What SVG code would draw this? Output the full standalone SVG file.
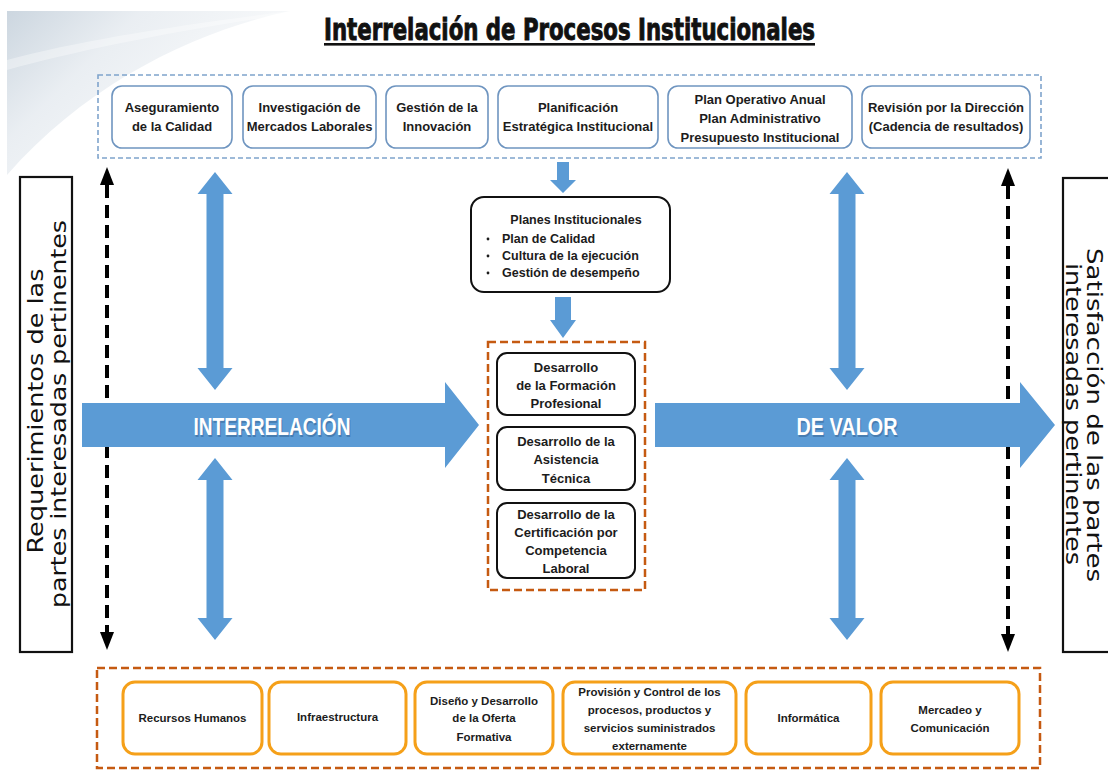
<svg xmlns="http://www.w3.org/2000/svg" width="1108" height="770" viewBox="0 0 1108 770">
<defs>
<linearGradient id="bg" x1="0" y1="0" x2="1" y2="0.6">
<stop offset="0" stop-color="#c3cfda"/>
<stop offset="0.35" stop-color="#e6ebf0"/>
<stop offset="1" stop-color="#ffffff"/>
</linearGradient>
<marker id="blk" markerUnits="userSpaceOnUse" markerWidth="18" markerHeight="16" refX="0" refY="7" orient="auto-start-reverse" viewBox="0 0 18 14">
<path d="M0,0 L18,7 L0,14 Z" fill="#000"/>
</marker>
</defs>
<style>
.t{font-family:"Liberation Sans",Arial,sans-serif;font-weight:bold;fill:#1c1c1c;text-anchor:middle}
.tl{font-family:"Liberation Sans",Arial,sans-serif;font-weight:bold;fill:#1c1c1c}
.top{fill:#fff;stroke:#6f95c0;stroke-width:1.6}
.bot{fill:#fff;stroke:#f5a019;stroke-width:3}
.blk{fill:#fff;stroke:#111;stroke-width:2}
.blue{fill:#5b9bd5}
.rot{font-family:"DejaVu Sans","Liberation Sans",sans-serif;font-size:22px;fill:#111;text-anchor:middle}
.big{font-family:"Liberation Sans",Arial,sans-serif;font-weight:bold;font-size:24px;text-anchor:middle}
</style>
<rect width="1108" height="770" fill="#fff"/>
<path d="M7,11 L290,11 C200,30 90,80 7,175 Z" fill="url(#bg)" opacity="0.85"/>
<path d="M7,60 C80,40 180,25 290,11 L290,14 C180,30 80,50 7,70 Z" fill="#fff" opacity="0.35"/>

<g id="title">
<text x="569.5" y="40" font-family="'DejaVu Sans Condensed','Liberation Sans Narrow','Liberation Sans',sans-serif" font-weight="bold" font-size="30" fill="#111" stroke="#111" stroke-width="0.9" text-anchor="middle" textLength="491" lengthAdjust="spacingAndGlyphs">Interrelación de Procesos Institucionales</text>
<rect x="324" y="43" width="491" height="2.6" fill="#111"/>
</g>

<g id="top-group">
<rect x="98" y="75" width="943" height="83" fill="none" stroke="#7fa4cc" stroke-width="1.6" stroke-dasharray="5 3"/>
</g>
<g id="n-aseguramiento"><rect class="top" x="112" y="86" width="120" height="62" rx="10"/><text class="t" font-size="13"><tspan x="172" y="112">Aseguramiento</tspan><tspan x="172" y="131">de la Calidad</tspan></text></g>
<g id="n-investigacion"><rect class="top" x="243" y="86" width="133" height="62" rx="10"/><text class="t" font-size="13"><tspan x="309.5" y="112">Investigación de</tspan><tspan x="309.5" y="131">Mercados Laborales</tspan></text></g>
<g id="n-innovacion"><rect class="top" x="386" y="86" width="102" height="62" rx="10"/><text class="t" font-size="13"><tspan x="437" y="112">Gestión de la</tspan><tspan x="437" y="131">Innovación</tspan></text></g>
<g id="n-planificacion"><rect class="top" x="498" y="86" width="160" height="62" rx="10"/><text class="t" font-size="13"><tspan x="578" y="112">Planificación</tspan><tspan x="578" y="131">Estratégica Institucional</tspan></text></g>
<g id="n-poa"><rect class="top" x="668" y="86" width="184" height="62" rx="10"/><text class="t" font-size="13"><tspan x="760" y="103.5">Plan Operativo Anual</tspan><tspan x="760" y="122.5">Plan Administrativo</tspan><tspan x="760" y="141.5">Presupuesto Institucional</tspan></text></g>
<g id="n-revision"><rect class="top" x="862" y="86" width="168" height="62" rx="10"/><text class="t" font-size="13"><tspan x="946" y="112">Revisión por la Dirección</tspan><tspan x="946" y="131">(Cadencia de resultados)</tspan></text></g>

<g id="n-requerimientos">
<rect x="20" y="177" width="52" height="475" fill="#fff" stroke="#111" stroke-width="2.2"/>
<text class="rot" transform="translate(43,411) rotate(-90)" textLength="285" lengthAdjust="spacingAndGlyphs">Requerimientos de las</text>
<text class="rot" transform="translate(66,414) rotate(-90)" textLength="388" lengthAdjust="spacingAndGlyphs">partes interesadas pertinentes</text>
</g>
<g id="n-satisfaccion">
<rect x="1063" y="178" width="60" height="474" fill="#fff" stroke="#111" stroke-width="2.2"/>
<text class="rot" font-size="21" style="font-size:21px" transform="translate(1087,415) rotate(90)" textLength="334" lengthAdjust="spacingAndGlyphs">Satisfacción de las partes</text>
<text class="rot" style="font-size:21px" transform="translate(1066,414) rotate(90)" textLength="302" lengthAdjust="spacingAndGlyphs">interesadas pertinentes</text>
</g>

<g id="connectors">
<line x1="107" y1="185" x2="107" y2="632" stroke="#000" stroke-width="4" stroke-dasharray="13 7" marker-start="url(#blk)" marker-end="url(#blk)"/>
<line x1="1008" y1="186" x2="1008" y2="634" stroke="#000" stroke-width="4" stroke-dasharray="13 7" marker-start="url(#blk)" marker-end="url(#blk)"/>
<polygon class="blue" points="215,172 232.5,194 223.5,194 223.5,368 232.5,368 215,390 197.5,368 206.5,368 206.5,194 197.5,194"/>
<polygon class="blue" points="215,458 232.5,480 223.5,480 223.5,618 232.5,618 215,640 197.5,618 206.5,618 206.5,480 197.5,480"/>
<polygon class="blue" points="847,172 864.5,194 855.5,194 855.5,368 864.5,368 847,390 829.5,368 838.5,368 838.5,194 829.5,194"/>
<polygon class="blue" points="847,458 864.5,480 855.5,480 855.5,618 864.5,618 847,640 829.5,618 838.5,618 838.5,480 829.5,480"/>
<polygon class="blue" points="82,403 445,403 445,382 479,425 445,468 445,447 82,447"/>
<polygon class="blue" points="655,403 1020,403 1020,382 1055,425 1020,468 1020,447 655,447"/>
<polygon class="blue" points="557,162 569,162 569,180 576,180 563,193 550,180 557,180"/>
<polygon class="blue" points="555,297 571,297 571,320 576,320 563,338 550,320 555,320"/>
<text class="big" x="273" y="436.5" fill="#3a6a9a" opacity="0.6" textLength="157" lengthAdjust="spacingAndGlyphs">INTERRELACIÓN</text>
<text class="big" x="272" y="435" fill="#fff" textLength="157" lengthAdjust="spacingAndGlyphs">INTERRELACIÓN</text>
<text class="big" x="848" y="436.5" fill="#3a6a9a" opacity="0.6" textLength="101" lengthAdjust="spacingAndGlyphs">DE VALOR</text>
<text class="big" x="847" y="435" fill="#fff" textLength="101" lengthAdjust="spacingAndGlyphs">DE VALOR</text>
</g>

<g id="n-planes">
<rect class="blk" x="471" y="197" width="199" height="95" rx="13"/>
<text class="t" font-size="12.5" x="576" y="224">Planes Institucionales</text>
<g class="tl" font-size="12.5">
<circle cx="488" cy="239" r="1.4" fill="#1c1c1c"/><text x="502" y="243">Plan de Calidad</text>
<circle cx="488" cy="256" r="1.4" fill="#1c1c1c"/><text x="502" y="260">Cultura de la ejecución</text>
<circle cx="488" cy="273" r="1.4" fill="#1c1c1c"/><text x="502" y="277">Gestión de desempeño</text>
</g>
</g>

<g id="core-group">
<rect x="488" y="342" width="157" height="248" fill="none" stroke="#c55a11" stroke-width="2.5" stroke-dasharray="8 4"/>
</g>
<g id="n-formacion"><rect class="blk" x="497" y="353" width="138" height="62" rx="10"/><text class="t" font-size="13"><tspan x="566" y="372">Desarrollo</tspan><tspan x="566" y="390">de la Formación</tspan><tspan x="566" y="408">Profesional</tspan></text></g>
<g id="n-asistencia"><rect class="blk" x="497" y="427" width="138" height="63" rx="10"/><text class="t" font-size="13"><tspan x="566" y="446">Desarrollo de la</tspan><tspan x="566" y="464">Asistencia</tspan><tspan x="566" y="483">Técnica</tspan></text></g>
<g id="n-certificacion"><rect class="blk" x="497" y="503" width="138" height="75" rx="10"/><text class="t" font-size="13"><tspan x="566" y="519">Desarrollo de la</tspan><tspan x="566" y="537">Certificación por</tspan><tspan x="566" y="555">Competencia</tspan><tspan x="566" y="573">Laboral</tspan></text></g>

<g id="support-group">
<rect x="97" y="668" width="943" height="100" fill="none" stroke="#c55a11" stroke-width="2.5" stroke-dasharray="8 4"/>
</g>
<g id="n-rrhh"><rect class="bot" x="123" y="682" width="139" height="72" rx="12"/><text class="t" font-size="11.5" x="192.5" y="722">Recursos Humanos</text></g>
<g id="n-infra"><rect class="bot" x="269" y="682" width="137" height="72" rx="12"/><text class="t" font-size="11.5" x="337.5" y="721">Infraestructura</text></g>
<g id="n-diseno"><rect class="bot" x="415" y="682" width="138" height="72" rx="12"/><text class="t" font-size="11.5"><tspan x="484" y="705">Diseño y Desarrollo</tspan><tspan x="484" y="722">de la Oferta</tspan><tspan x="484" y="741">Formativa</tspan></text></g>
<g id="n-provision"><rect class="bot" x="563" y="682" width="173" height="72" rx="12"/><text class="t" font-size="11.5"><tspan x="649.5" y="696">Provisión y Control de los</tspan><tspan x="649.5" y="714">procesos, productos y</tspan><tspan x="649.5" y="732">servicios suministrados</tspan><tspan x="649.5" y="750">externamente</tspan></text></g>
<g id="n-informatica"><rect class="bot" x="746" y="682" width="125" height="72" rx="12"/><text class="t" font-size="11.5" x="808.5" y="722">Informática</text></g>
<g id="n-mercadeo"><rect class="bot" x="881" y="682" width="138" height="72" rx="12"/><text class="t" font-size="11.5"><tspan x="950" y="714">Mercadeo y</tspan><tspan x="950" y="732">Comunicación</tspan></text></g>
</svg>
